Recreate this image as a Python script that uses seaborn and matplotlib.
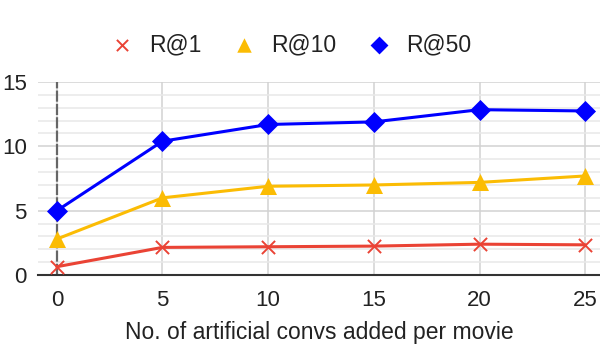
import seaborn as sns
import pandas as pd
import matplotlib.pyplot as plt
from matplotlib.ticker import MultipleLocator

convs = [0, 5, 10, 15, 20, 25]
r_at_1 = [0.65, 2.15, 2.2, 2.25, 2.4, 2.35]
r_at_10 = [2.8, 6.0, 6.9, 7.0, 7.2, 7.7]
r_at_50 = [5.0, 10.4, 11.7, 11.9, 12.85, 12.75]
series_names = ["R@1", "R@10", "R@50"]

df = pd.DataFrame({"convs": convs, "R@1": r_at_1, "R@10": r_at_10, "R@50": r_at_50})
long_df = df.melt(id_vars="convs", var_name="metric", value_name="score")

sns.set_style("white")
plt.rcParams["font.family"] = ["Liberation Sans", "DejaVu Sans"]

fig = plt.figure(figsize=(6, 3.46), dpi=100)
ax = fig.add_axes([0.063, 0.205, 0.937, 0.558])

colors = {"R@1": "#ea4335", "R@10": "#fbbc04", "R@50": "#0000ff"}
markers = {"R@1": "x", "R@10": "^", "R@50": "D"}
sizes = {"R@1": 90, "R@10": 150, "R@50": 115}

sns.lineplot(data=long_df, x="convs", y="score", hue="metric", palette=colors,
             linewidth=2.2, legend=False, ax=ax, zorder=3)
for name in series_names:
    sub = long_df[long_df["metric"] == name]
    sns.scatterplot(data=sub, x="convs", y="score", color=colors[name],
                    marker=markers[name], s=sizes[name], linewidth=1.4 if name == "R@1" else 0,
                    ax=ax, zorder=4, label=name)

ax.set_xlim(-0.9, 25.7)
ax.set_ylim(0, 15)
ax.xaxis.set_major_locator(MultipleLocator(5))
ax.yaxis.set_major_locator(MultipleLocator(5))
ax.yaxis.set_minor_locator(MultipleLocator(1))
ax.grid(which="major", axis="both", color="#d2d2d2", linewidth=1.1)
ax.grid(which="minor", axis="y", color="#e8e8e8", linewidth=1.1)
ax.set_axisbelow(True)
ax.axvline(0, color="#666666", linewidth=1.6, linestyle=(0, (5, 1)), zorder=2)
for side in ["top", "right", "left"]:
    ax.spines[side].set_visible(False)
ax.spines["bottom"].set_color("#333333")
ax.spines["bottom"].set_linewidth(1.5)
ax.tick_params(axis="both", which="both", length=0, labelsize=16, colors="#222222")
ax.tick_params(axis="x", pad=11)
ax.tick_params(axis="y", pad=8)

ax.set_xlabel("No. of artificial convs added per movie", fontsize=16.5, color="#222222", labelpad=7)
ax.set_ylabel("")

handles, labels = ax.get_legend_handles_labels()
ax.legend_.remove() if ax.legend_ else None
fig.legend(handles, labels, loc="center", bbox_to_anchor=(291 / 600, 0.87), ncol=3, frameon=False,
           fontsize=16.5, handlelength=1.0, handletextpad=0.7, columnspacing=1.35,
           markerscale=0.85, labelcolor="#222222")

fig.savefig("out.png", dpi=100)
